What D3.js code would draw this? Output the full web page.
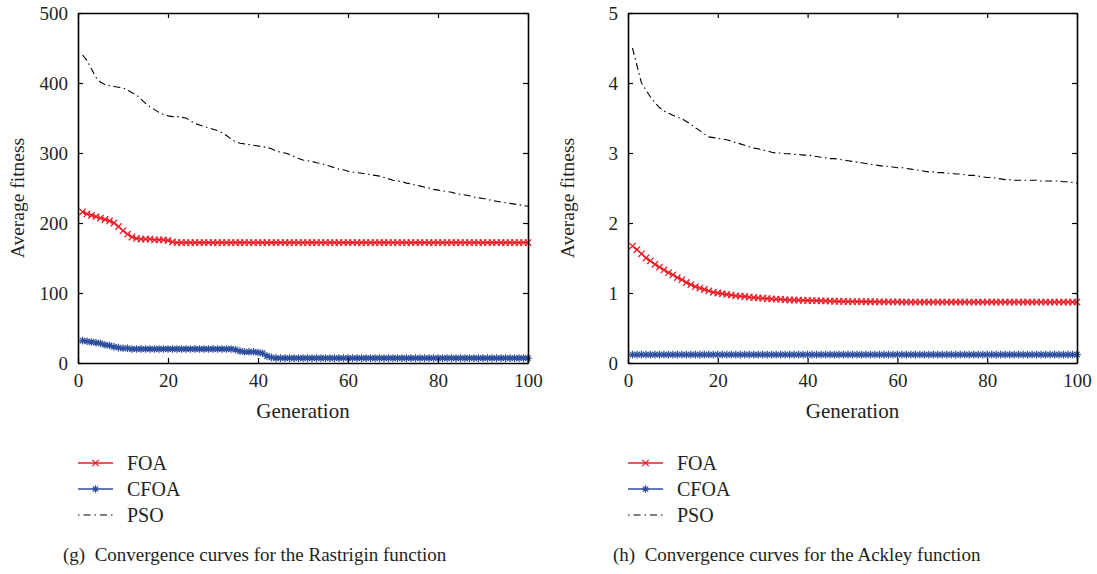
<!DOCTYPE html>
<html>
<head>
<meta charset="utf-8">
<script src="https://cdn.jsdelivr.net/npm/d3@7"></script>
<style>
body { margin: 0; background: #fff; }
svg text { font-family: "Liberation Serif", "DejaVu Serif", serif !important; fill: #231f20; }
</style>
</head>
<body>
<script>
// generation index 1..100 (x categories)
var generations = d3.range(1, 101);

// (g) Rastrigin
var rastriginFOA = [
  216, 213, 211, 209, 207, 205, 203, 200, 195, 189,
  184, 180, 178, 177, 177, 177, 176, 176, 176, 175,
  173, 172, 172, 172, 172, 172, 172, 172, 172, 172,
  172, 172, 172, 172, 172, 172, 172, 172, 172, 172,
  172, 172, 172, 172, 172, 172, 172, 172, 172, 172,
  172, 172, 172, 172, 172, 172, 172, 172, 172, 172,
  172, 172, 172, 172, 172, 172, 172, 172, 172, 172,
  172, 172, 172, 172, 172, 172, 172, 172, 172, 172,
  172, 172, 172, 172, 172, 172, 172, 172, 172, 172,
  172, 172, 172, 172, 172, 172, 172, 172, 172, 172
];
var rastriginCFOA = [
  32, 31, 30, 29, 28, 26, 25, 23, 22, 21,
  21, 20, 20, 20, 20, 20, 20, 20, 20, 20,
  20, 20, 20, 20, 20, 20, 20, 20, 20, 20,
  20, 20, 20, 20, 19, 17, 16, 16, 16, 15,
  14, 10, 8, 7, 7, 7, 7, 7, 7, 7,
  7, 7, 7, 7, 7, 7, 7, 7, 7, 7,
  7, 7, 7, 7, 7, 7, 7, 7, 7, 7,
  7, 7, 7, 7, 7, 7, 7, 7, 7, 7,
  7, 7, 7, 7, 7, 7, 7, 7, 7, 7,
  7, 7, 7, 7, 7, 7, 7, 7, 7, 7
];
var rastriginPSO = [
  440, 432, 420, 408, 401, 398, 396, 395, 394, 393,
  390, 386, 383, 377, 371, 366, 362, 358, 355, 353,
  352, 352, 351, 350, 346, 342, 340, 338, 336, 334,
  332, 329, 325, 320, 316, 314, 313, 312, 311, 310,
  309, 308, 306, 303, 301, 300, 298, 295, 292, 290,
  289, 288, 286, 285, 283, 281, 279, 277, 276, 274,
  273, 272, 271, 270, 269, 268, 267, 265, 263, 261,
  260, 259, 257, 256, 254, 253, 251, 250, 248, 247,
  246, 245, 244, 242, 241, 240, 239, 237, 236, 235,
  234, 232, 231, 230, 229, 228, 227, 226, 225, 224
];

// (h) Ackley
var ackleyFOA = [
  1.67, 1.62, 1.56, 1.50, 1.46, 1.41, 1.37, 1.33, 1.29, 1.26,
  1.22, 1.19, 1.15, 1.12, 1.09, 1.07, 1.05, 1.03, 1.01, 1.00,
  0.99, 0.98, 0.97, 0.96, 0.955, 0.95, 0.94, 0.935, 0.93, 0.925,
  0.92, 0.915, 0.912, 0.91, 0.905, 0.90, 0.90, 0.898, 0.895, 0.893,
  0.89, 0.89, 0.888, 0.886, 0.884, 0.882, 0.88, 0.879, 0.878, 0.877,
  0.876, 0.876, 0.875, 0.875, 0.874, 0.874, 0.873, 0.873, 0.872, 0.872,
  0.871, 0.871, 0.871, 0.870, 0.870, 0.870, 0.870, 0.870, 0.870, 0.870,
  0.870, 0.870, 0.870, 0.870, 0.870, 0.870, 0.870, 0.870, 0.870, 0.870,
  0.870, 0.870, 0.870, 0.870, 0.870, 0.870, 0.870, 0.870, 0.870, 0.870,
  0.870, 0.870, 0.870, 0.870, 0.870, 0.870, 0.870, 0.870, 0.870, 0.870
];
var ackleyCFOA = [
  0.12, 0.12, 0.12, 0.12, 0.12, 0.12, 0.12, 0.12, 0.12, 0.12,
  0.12, 0.12, 0.12, 0.12, 0.12, 0.12, 0.12, 0.12, 0.12, 0.12,
  0.12, 0.12, 0.12, 0.12, 0.12, 0.12, 0.12, 0.12, 0.12, 0.12,
  0.12, 0.12, 0.12, 0.12, 0.12, 0.12, 0.12, 0.12, 0.12, 0.12,
  0.12, 0.12, 0.12, 0.12, 0.12, 0.12, 0.12, 0.12, 0.12, 0.12,
  0.12, 0.12, 0.12, 0.12, 0.12, 0.12, 0.12, 0.12, 0.12, 0.12,
  0.12, 0.12, 0.12, 0.12, 0.12, 0.12, 0.12, 0.12, 0.12, 0.12,
  0.12, 0.12, 0.12, 0.12, 0.12, 0.12, 0.12, 0.12, 0.12, 0.12,
  0.12, 0.12, 0.12, 0.12, 0.12, 0.12, 0.12, 0.12, 0.12, 0.12,
  0.12, 0.12, 0.12, 0.12, 0.12, 0.12, 0.12, 0.12, 0.12, 0.12
];
var ackleyPSO = [
  4.50, 4.25, 4.00, 3.90, 3.80, 3.72, 3.65, 3.60, 3.57, 3.54,
  3.51, 3.49, 3.45, 3.41, 3.36, 3.32, 3.27, 3.23, 3.22, 3.21,
  3.20, 3.19, 3.17, 3.15, 3.13, 3.11, 3.09, 3.07, 3.06, 3.04,
  3.03, 3.01, 3.00, 3.00, 2.99, 2.99, 2.98, 2.98, 2.97, 2.97,
  2.96, 2.95, 2.94, 2.93, 2.92, 2.92, 2.91, 2.90, 2.89, 2.88,
  2.87, 2.86, 2.85, 2.84, 2.83, 2.82, 2.81, 2.81, 2.80, 2.79,
  2.79, 2.78, 2.77, 2.76, 2.75, 2.74, 2.73, 2.73, 2.72, 2.72,
  2.71, 2.71, 2.70, 2.70, 2.69, 2.68, 2.68, 2.67, 2.66, 2.65,
  2.65, 2.64, 2.63, 2.62, 2.62, 2.61, 2.61, 2.61, 2.61, 2.61,
  2.61, 2.60, 2.60, 2.60, 2.60, 2.60, 2.59, 2.59, 2.58, 2.57
];

var xTicks = [0, 20, 40, 60, 80, 100];
var rastriginYTicks = [0, 100, 200, 300, 400, 500];
var ackleyYTicks = [0, 1, 2, 3, 4, 5];
var seriesNames = ["FOA", "CFOA", "PSO"];

var RED = "#ec1c24", BLUE = "#2d4e9e";

var svg = d3.select("body").append("svg")
    .attr("width", 1097)
    .attr("height", 574)
    .attr("font-family", '"Liberation Serif", serif');

var markX = "M-3.2,-3.2L3.2,3.2M-3.2,3.2L3.2,-3.2";
var markStar = "M-3.8,0L3.8,0M0,-3.8L0,3.8M-2.7,-2.7L2.7,2.7M-2.7,2.7L2.7,-2.7";

var panels = [
  { left: 78, right: 528, yMax: 500, yTicks: rastriginYTicks,
    data: [rastriginFOA, rastriginCFOA, rastriginPSO],
    letter: "(g)", caption: "Convergence curves for the Rastrigin function" },
  { left: 628, right: 1077, yMax: 5, yTicks: ackleyYTicks,
    data: [ackleyFOA, ackleyCFOA, ackleyPSO],
    letter: "(h)", caption: "Convergence curves for the Ackley function" }
];

var plotTop = 13, plotBottom = 363;

panels.forEach(function(p) {
  var x = d3.scaleLinear().domain([0, 100]).range([p.left, p.right]);
  var y = d3.scaleLinear().domain([0, p.yMax]).range([plotBottom, plotTop]);
  var g = svg.append("g");

  var styles = [
    { color: RED, width: 1.5, mark: markX, dash: null },
    { color: BLUE, width: 1.5, mark: markStar, dash: null },
    { color: "#000", width: 1.1, mark: null, dash: "7,3.5,1.5,3.5" }
  ];

  // draw PSO first, then CFOA, then FOA
  [2, 1, 0].forEach(function(si) {
    var vals = p.data[si], st = styles[si];
    var pts = generations.map(function(gen, i) { return [gen, vals[i]]; });
    var line = d3.line().x(function(d) { return x(d[0]); }).y(function(d) { return y(d[1]); });
    g.append("path")
      .datum(pts)
      .attr("d", line)
      .attr("fill", "none")
      .attr("stroke", st.color)
      .attr("stroke-width", st.width)
      .attr("stroke-dasharray", st.dash);
    if (st.mark) {
      g.selectAll(".m" + si)
        .data(pts)
        .enter().append("path")
        .attr("d", st.mark)
        .attr("transform", function(d) { return "translate(" + x(d[0]) + "," + y(d[1]) + ")"; })
        .attr("fill", "none")
        .attr("stroke", st.color)
        .attr("stroke-width", 1.25);
    }
  });

  // axes: inward ticks on all four sides
  function styleAxis(sel) {
    sel.attr("font-family", '"Liberation Serif", serif');
    sel.selectAll("path").attr("stroke", "#000").attr("stroke-width", 1.6);
    sel.selectAll("line").attr("stroke", "#000").attr("stroke-width", 1.2);
    sel.selectAll("text").attr("font-size", 19).attr("fill", "#231f20");
  }
  g.append("g").attr("transform", "translate(0," + plotBottom + ")")
    .call(d3.axisBottom(x).tickValues(xTicks).tickSize(-5).tickSizeOuter(0).tickPadding(10.5).tickFormat(d3.format("d")))
    .call(styleAxis);
  g.append("g").attr("transform", "translate(0," + plotTop + ")")
    .call(d3.axisTop(x).tickValues(xTicks).tickSize(-5).tickSizeOuter(0).tickFormat(""))
    .call(styleAxis);
  g.append("g").attr("transform", "translate(" + p.left + ",0)")
    .call(d3.axisLeft(y).tickValues(p.yTicks).tickSize(-5).tickSizeOuter(0).tickPadding(10).tickFormat(d3.format("d")))
    .call(styleAxis);
  g.append("g").attr("transform", "translate(" + p.right + ",0)")
    .call(d3.axisRight(y).tickValues(p.yTicks).tickSize(-5).tickSizeOuter(0).tickFormat(""))
    .call(styleAxis);

  // axis titles
  g.append("text")
    .attr("x", (p.left + p.right) / 2)
    .attr("y", 418)
    .attr("text-anchor", "middle")
    .attr("font-size", 21)
    .text("Generation");
  g.append("text")
    .attr("transform", "translate(" + (p.left - 54) + ",198) rotate(-90)")
    .attr("text-anchor", "middle")
    .attr("font-size", 19.5)
    .text("Average fitness");

  // legend
  var legY = [463, 489, 515];
  seriesNames.forEach(function(name, si) {
    var st = styles[si];
    var lg = g.append("g");
    lg.append("line")
      .attr("x1", p.left).attr("x2", p.left + 35)
      .attr("y1", legY[si]).attr("y2", legY[si])
      .attr("stroke", st.color)
      .attr("stroke-width", si === 2 ? 1.1 : 1.4)
      .attr("stroke-dasharray", si === 2 ? "1.5,4,7,4" : null);
    if (st.mark) {
      lg.append("path")
        .attr("d", st.mark)
        .attr("transform", "translate(" + (p.left + 17.5) + "," + legY[si] + ")")
        .attr("fill", "none")
        .attr("stroke", st.color)
        .attr("stroke-width", 1.2);
    }
    lg.append("text")
      .attr("x", p.left + 49)
      .attr("y", legY[si] + 7)
      .attr("font-size", 20)
      .text(name);
  });

  // caption
  g.append("text")
    .attr("x", p.left - 15)
    .attr("y", 561)
    .attr("font-size", 19)
    .attr("xml:space", "preserve")
    .style("white-space", "pre")
    .text(p.letter + "  " + p.caption);
});
</script>
</body>
</html>
